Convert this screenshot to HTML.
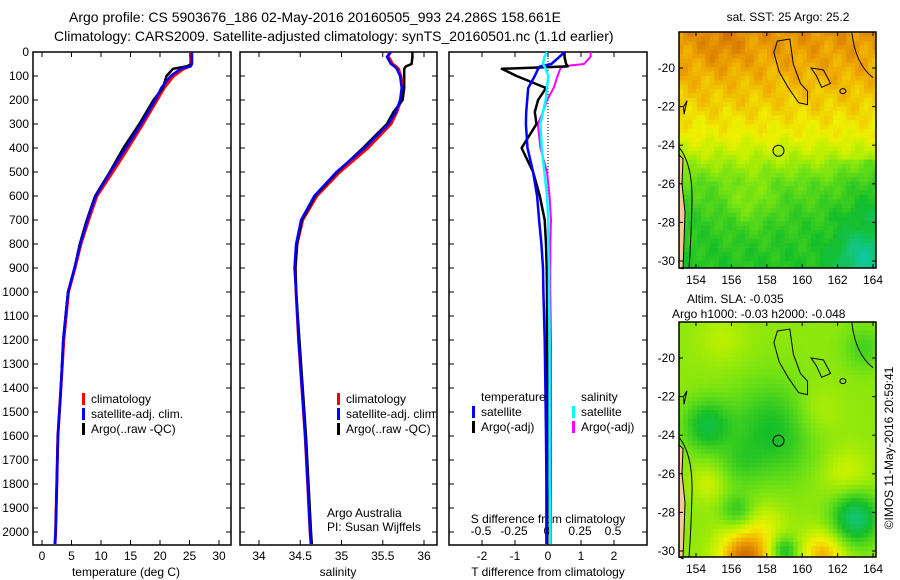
<!DOCTYPE html>
<html><head><meta charset="utf-8"><style>
html,body{margin:0;padding:0;background:#fff;}
svg{display:block;font-family:"Liberation Sans",sans-serif;}
</style></head><body>
<svg id="c" width="900" height="580" viewBox="0 0 900 580" xmlns="http://www.w3.org/2000/svg">
<text x="69" y="22" font-size="14">Argo profile: CS 5903676_186 02-May-2016 20160505_993 24.286S 158.661E</text>
<text x="54" y="41" font-size="14">Climatology: CARS2009. Satellite-adjusted climatology: synTS_20160501.nc (1.1d earlier)</text>
<g id="plots"></g>
<text x="788" y="21" font-size="12" text-anchor="middle">sat. SST: 25 Argo: 25.2</text>
<text x="687" y="303" font-size="12">Altim. SLA: -0.035</text>
<text x="672" y="318" font-size="12">Argo h1000: -0.03 h2000: -0.048</text>
<text transform="translate(893,448) rotate(-90)" font-size="12" text-anchor="middle">©IMOS 11-May-2016 20:59:41</text>
</svg>
<script>
// ---- profile data ----
const depths = [0,20,50,60,70,100,150,200,250,300,400,500,600,700,800,900,1000,1200,1400,1600,1800,2000,2050];
const tempClim = [25.2,25.2,25.2,25.0,24.0,22.3,20.7,19.5,18.3,17.1,14.6,12.0,9.3,7.9,6.6,5.6,4.5,3.7,3.2,2.7,2.5,2.3,2.2];
const tempSat  = [25.4,25.4,25.4,25.2,23.5,21.8,20.2,19.2,18.0,16.8,14.2,11.6,9.1,7.7,6.5,5.5,4.4,3.6,3.2,2.7,2.5,2.3,2.2];
const tempArgo = [25.4,25.4,25.4,24.5,22.2,21.1,20.5,18.9,17.7,16.5,13.8,11.5,9.0,7.6,6.4,5.5,4.4,3.6,3.2,2.7,2.5,2.3,2.2];
const salClim = [35.58,35.57,35.62,35.66,35.69,35.72,35.74,35.72,35.67,35.60,35.32,34.98,34.70,34.53,34.46,34.44,34.45,34.48,34.52,34.56,34.59,34.62,34.63];
const salSat  = [35.60,35.55,35.60,35.64,35.67,35.71,35.73,35.71,35.66,35.57,35.28,34.94,34.67,34.51,34.45,34.43,34.45,34.48,34.52,34.56,34.59,34.62,34.63];
const salArgo = [35.86,35.86,35.85,35.78,35.76,35.76,35.76,35.74,35.63,35.55,35.26,34.95,34.68,34.52,34.46,34.44,34.45,34.49,34.53,34.57,34.60,34.63,34.64];
const dTSat  = [0.5,0.35,0.1,-0.24,-0.3,-0.4,-0.6,-0.63,-0.66,-0.67,-0.62,-0.45,-0.33,-0.27,-0.2,-0.15,-0.14,-0.1,-0.08,-0.06,-0.05,-0.05,-0.05];
const dTArgo = [0.5,0.5,0.55,0.6,-1.4,-0.95,-0.06,-0.3,-0.4,-0.35,-0.8,-0.45,-0.25,-0.1,-0.06,-0.04,-0.03,-0.03,-0.02,-0.02,-0.02,-0.02,-0.02];
const dSSat  = [0.0,-0.02,-0.03,-0.02,-0.01,0.01,0.0,-0.01,-0.03,-0.05,-0.04,-0.02,0.0,0.01,0.01,0.015,0.015,0.02,0.02,0.02,0.02,0.025,0.025];
const dSArgo = [0.33,0.33,0.28,0.12,0.1,0.08,0.05,0.0,-0.03,-0.07,-0.05,0.0,0.02,0.03,0.025,0.025,0.025,0.03,0.03,0.03,0.03,0.03,0.03];
const depthTicks = [0,100,200,300,400,500,600,700,800,900,1000,1100,1200,1300,1400,1500,1600,1700,1800,1900,2000];
const tempTicks = [0,5,10,15,20,25,30];
const salTicks = [34,34.5,35,35.5,36];
const tdTicks = [-2,-1,0,1,2];
const sdTicks = [-0.5,-0.25,0,0.25,0.5];
const sdTickLabels = ["-0.5","-0.25","0","0.25","0.5"];

const NS="http://www.w3.org/2000/svg";
const root=document.getElementById('plots');
function el(tag,attrs,parent){const e=document.createElementNS(NS,tag);for(const k in attrs)e.setAttribute(k,attrs[k]);(parent||root).appendChild(e);return e;}
function txt(x,y,s,size,anchor,parent){const t=el('text',{x:x,y:y,'font-size':size,'text-anchor':anchor||'start'},parent);t.textContent=s;return t;}

const pTop=52,pBot=545;
const yD=d=>pTop+d*0.24;
function linScale(v0,p0,v1,p1){return v=>p0+(v-v0)*(p1-p0)/(v1-v0);}

function panel(nm,x0,x1){
  const g=el('g',{});
  
  
  const r=el('rect',{x:x0,y:pTop,width:x1-x0,height:pBot-pTop,fill:'none',stroke:'#000','stroke-width':1.5},g);
  
  
  depthTicks.forEach(d=>{
    el('line',{x1:x0,x2:x0+5,y1:yD(d),y2:yD(d),stroke:'#000'},g);
    el('line',{x1:x1,x2:x1-5,y1:yD(d),y2:yD(d),stroke:'#000'},g);
  });
  return g;
}
function xTicks(g,sx,ticks,labels,labelY,ticksTop){
  ticks.forEach((t,i)=>{
    const x=sx(t);
    el('line',{x1:x,x2:x,y1:pBot,y2:pBot-5,stroke:'#000'},g);
    if(ticksTop!==false) el('line',{x1:x,x2:x,y1:pTop,y2:pTop+5,stroke:'#000'},g);
    if(labels){const l=txt(x,labelY,labels[i],12,'middle',g);}
  });
}
function series(g,nm,vals,sx,color,w){
  const pts=vals.map((v,i)=>sx(v).toFixed(1)+','+yD(depths[i]).toFixed(1)).join(' ');
  const p=el('polyline',{points:pts,fill:'none',stroke:color,'stroke-width':w||2.5,'stroke-linejoin':'round'},g);
  
  
}
function legend(g,x,y,items){
  items.forEach((it,i)=>{
    el('rect',{x:x,y:y+i*15-9,width:3,height:12,fill:it[1]},g);
    const t=txt(x+9,y+i*15+1,it[0],12,'start',g);
    
    
  });
}

// Panel 1: temperature
const g1=panel('temperature-panel',33,231);
const sxT=linScale(0,42,30,219);
xTicks(g1,sxT,tempTicks,tempTicks.map(String),560);
depthTicks.forEach(d=>{const l=txt(29,yD(d)+4,String(d),12,'end',g1);});
const xl1=txt(126,576,'temperature (deg C)',12,'middle',g1);


series(g1,'temp-climatology',tempClim,sxT,'#f00',3);
series(g1,'temp-argo',tempArgo,sxT,'#000',2.5);
series(g1,'temp-satellite-adj',tempSat,sxT,'#00f',2.5);
legend(g1,82,402,[['climatology','#f00'],['satellite-adj. clim.','#00f'],['Argo(..raw -QC)','#000']]);

// Panel 2: salinity
const g2=panel('salinity-panel',240,437);
const sxS=linScale(34,259,36,424);
xTicks(g2,sxS,salTicks,['34','34.5','35','35.5','36'],560);
const xl2=txt(338,576,'salinity',12,'middle',g2);


series(g2,'sal-climatology',salClim,sxS,'#f00',3);
series(g2,'sal-argo',salArgo,sxS,'#000',2.5);
series(g2,'sal-satellite-adj',salSat,sxS,'#00f',2.5);
legend(g2,337,402,[['climatology','#f00'],['satellite-adj. clim.','#00f'],['Argo(..raw -QC)','#000']]);
const a1=txt(327,517,'Argo Australia',12,'start',g2);
const a2=txt(327,531,'PI: Susan Wijffels',12,'start',g2);

// Panel 3: differences
const g3=panel('difference-panel',449,647);
const sxTD=linScale(0,548,1,581);
const sxSD=linScale(0,547,0.5,613);
xTicks(g3,sxTD,tdTicks,tdTicks.map(String),560,true);
sdTicks.forEach((t,i)=>{const l=txt(sxSD(t),535,sdTickLabels[i],12,'middle',g3);});
const st=txt(548,523,'S difference from climatology',12,'middle',g3);
const tt=txt(548,576,'T difference from climatology',12,'middle',g3);
const zl=el('line',{x1:sxTD(0),x2:sxTD(0),y1:pTop,y2:pBot,stroke:'#000','stroke-dasharray':'1,2'},g3);


series(g3,'s-diff-argo',dSArgo,sxSD,'#f0f',2);
series(g3,'t-diff-argo',dTArgo,sxTD,'#000',2.5);
series(g3,'t-diff-satellite',dTSat,sxTD,'#00f',2.5);
series(g3,'s-diff-satellite',dSSat,sxSD,'#0ff',2.5);
const lh1=txt(481,401,'temperature',12,'start',g3);


const lh2=txt(581,401,'salinity',12,'start',g3);


legend(g3,472,415,[['satellite','#00f'],['Argo(-adj)','#000']]);
legend(g3,572,415,[['satellite','#0ff'],['Argo(-adj)','#f0f']]);

// ---- maps ----
const lonTicks=[154,156,158,160,162,164];
const latTicks=[-20,-22,-24,-26,-28,-30];
const mapX0=679,mapX1=876;
const mx=linScale(154,696,164,873);
const palette=[[0,[16,200,160]],[0.3,[20,190,40]],[0.5,[110,225,20]],[0.65,[190,240,0]],[0.75,[240,240,0]],[0.88,[240,170,0]],[1,[210,110,0]]];
function col(v){v=Math.max(0,Math.min(1,v));for(let i=1;i<palette.length;i++){if(v<=palette[i][0]){const a=palette[i-1],b=palette[i];const f=(v-a[0])/(b[0]-a[0]);const c=a[1].map((q,k)=>Math.round(q+(b[1][k]-q)*f));return 'rgb('+c.join(',')+')';}}return 'rgb(210,110,0)';}
function gauss(lon,lat,cx,cy,s,a){return a*Math.exp(-((lon-cx)**2+(lat-cy)**2)/(2*s*s));}
const sstLatK=[-18,-20,-22,-23.5,-24.5,-26,-28,-31];
const sstLatV=[0.93,0.88,0.81,0.74,0.64,0.46,0.36,0.32];
function interp(xs,ys,x){if(x>=xs[0])return ys[0];for(let i=1;i<xs.length;i++){if(x>=xs[i]){const f=(x-xs[i-1])/(xs[i]-xs[i-1]);return ys[i-1]+(ys[i]-ys[i-1])*f;}}return ys[ys.length-1];}
function sstField(lon,lat){
  let v=interp(sstLatK,sstLatV,lat);
  v+=0.025*Math.sin(lon*3.1+lat*2.3)+0.02*Math.sin(lon*5.7-lat*4.1);
  if(lon>161&&lat<-24.8&&lat>-28) v-=0.1*(lon-161)/3;
  v+=gauss(lon,lat,157,-27,1,0.12);
  v+=gauss(lon,lat,155.5,-18.8,0.8,0.05);
  v-=gauss(lon,lat,163.5,-29.8,1.1,0.3);
  return v;
}
function slaField(lon,lat){
  let v=0.56;
  v-=gauss(lon,lat,158.3,-23.8,1.7,0.26);
  v-=gauss(lon,lat,154.6,-23.5,0.9,0.3);
  v-=gauss(lon,lat,163,-28.3,0.9,0.45);
  v-=gauss(lon,lat,156.3,-27.9,0.6,0.2);
  v-=gauss(lon,lat,156.5,-25.5,0.8,0.1);
  v+=gauss(lon,lat,160.8,-22.8,1.0,0.1);
  v+=gauss(lon,lat,162.5,-26,1.0,0.12);
  v+=gauss(lon,lat,154.7,-26.5,0.7,0.12);
  v+=gauss(lon,lat,156.8,-30.4,1.1,0.45);
  v+=gauss(lon,lat,161.2,-30.2,0.9,0.3);
  v+=gauss(lon,lat,158,-28.5,0.8,0.1);
  v+=gauss(lon,lat,155.5,-19,1,0.08);
  v-=gauss(lon,lat,159,-30,0.5,0.3);
  v-=gauss(lon,lat,163.5,-19.5,0.8,0.15);
  return v;
}
function drawMap(nm,y0,y1,latA,yA,field){
  const g=el('g',{});
  
  
  const my=linScale(-20,latA,-30,yA);
  const step=4.4;
  for(let y=y0;y<y1;y+=step){for(let x=mapX0;x<mapX1;x+=step){
    const lon=154+(x+step/2-696)*10/177, lat=-20-(y+step/2-latA)*10/(yA-latA);
    el('rect',{x:x.toFixed(1),y:y.toFixed(1),width:Math.min(step+0.3,mapX1-x),height:Math.min(step+0.3,y1-y),fill:col(field(lon,lat))},g);
  }}
  const land=el('path',{d:`M${mapX0} ${my(-24.5)} L${mapX0+4} ${my(-24.7)} L${mapX0+3} ${my(-26)} L${mapX0+6} ${my(-27.5)} L${mapX0+5} ${my(-29)} L${mapX0+4} ${my(-30.4)} L${mapX0} ${y1} Z`,fill:'#f5c89a',stroke:'#000'},g);
  
  
  el('path',{d:`M${mapX0} ${my(-24.1)} Q${mapX0+14} ${my(-25)} ${mapX0+13} ${my(-27)} Q${mapX0+12} ${my(-29)} ${mapX0+10} ${y1}`,fill:'none',stroke:'#000'},g);
  el('path',{d:`M${mx(158.6)} ${my(-18.6)} L${mx(159.3)} ${my(-18.5)} L${mx(159.5)} ${my(-19.8)} L${mx(159.9)} ${my(-20.8)} L${mx(160.3)} ${my(-21.2)} L${mx(160.3)} ${my(-21.9)} L${mx(159.8)} ${my(-21.8)} L${mx(159.2)} ${my(-21)} L${mx(158.7)} ${my(-20.2)} L${mx(158.4)} ${my(-19.2)} Z`,fill:'none',stroke:'#000'},g);
  el('path',{d:`M${mx(160.5)} ${my(-20)} L${mx(161.2)} ${my(-20.1)} L${mx(161.6)} ${my(-20.8)} L${mx(161.1)} ${my(-21)} L${mx(160.8)} ${my(-20.4)} Z`,fill:'none',stroke:'#000'},g);
  el('ellipse',{cx:mx(162.3),cy:my(-21.2),rx:3,ry:2.5,fill:'none',stroke:'#000'},g);
  el('path',{d:`M${mx(153.3)} ${my(-22)} L${mapX0+8} ${my(-21.7)} L${mapX0+5} ${my(-22.4)} Z`,fill:'none',stroke:'#000'},g);
  el('path',{d:`M${mx(162.8)} ${y0} Q${mx(163)} ${my(-19.8)} ${mx(164)} ${my(-20.5)}`,fill:'none',stroke:'#000'},g);
  const c=el('circle',{cx:mx(158.661),cy:my(-24.286),r:5.5,fill:'none',stroke:'#000'},g);
  
  
  el('rect',{x:mapX0,y:y0,width:mapX1-mapX0,height:y1-y0,fill:'none',stroke:'#000','stroke-width':1.5},g);
  lonTicks.forEach(l=>{const x=mx(l);el('line',{x1:x,x2:x,y1:y1,y2:y1-4,stroke:'#000'},g);el('line',{x1:x,x2:x,y1:y0,y2:y0+4,stroke:'#000'},g);
    const t=txt(x,y1+16,String(l),12,'middle',g);});
  latTicks.forEach(l=>{const y=my(l);el('line',{x1:mapX0,x2:mapX0+4,y1:y,y2:y,stroke:'#000'},g);el('line',{x1:mapX1,x2:mapX1-4,y1:y,y2:y,stroke:'#000'},g);
    const t=txt(mapX0-4,y+4,String(l),12,'end',g);});
}
drawMap('sst-map',32,268,68,261,sstField);
drawMap('sla-map',322,557,358,551,slaField);
</script>
</body></html>
